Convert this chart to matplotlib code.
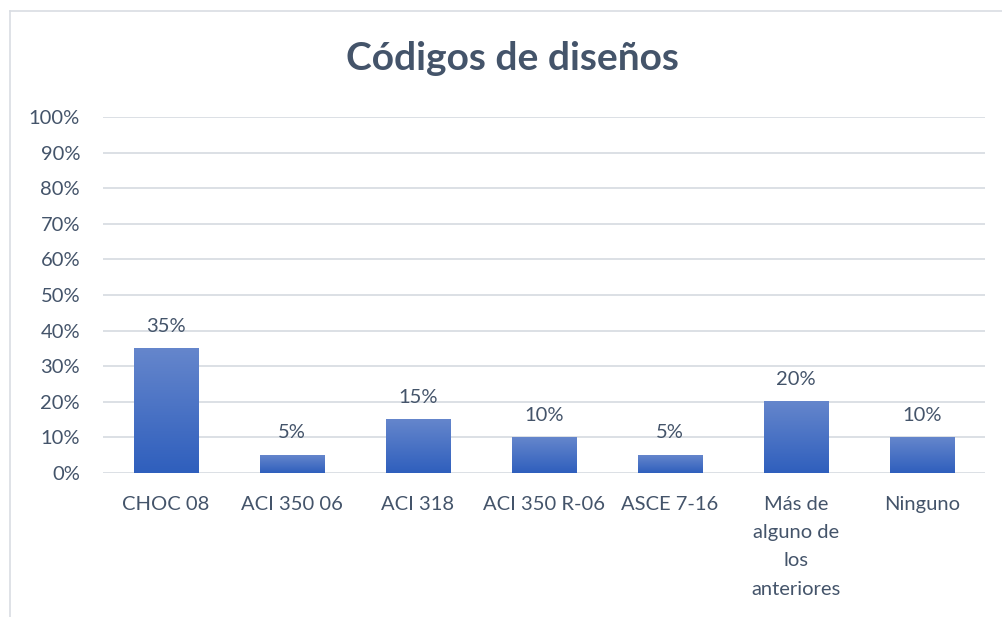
import numpy as np
import matplotlib
matplotlib.use("Agg")
import matplotlib.pyplot as plt
from matplotlib.colors import LinearSegmentedColormap
from matplotlib.ticker import FuncFormatter, MultipleLocator

categories = ["CHOC 08", "ACI 350 06", "ACI 318", "ACI 350 R-06", "ASCE 7-16",
              "Más de\nalguno de\nlos\nanteriores", "Ninguno"]
values = [0.35, 0.05, 0.15, 0.10, 0.05, 0.20, 0.10]
labels = ["35%", "5%", "15%", "10%", "5%", "20%", "10%"]
title = "Códigos de diseños"

plt.rcParams['font.family'] = ['Lato', 'DejaVu Sans']
text_color = "#44546A"
grid_color = "#D9DDE3"

fig = plt.figure(figsize=(10.03, 6.17), dpi=100)
fig.patch.set_facecolor("white")
ax = fig.add_axes([103/1003, 1-473/617, (985-103)/1003, (473-117)/617])

x = np.arange(len(categories))
bars = ax.bar(x, values, width=0.51, color="none", edgecolor="none", zorder=2)

cmap = LinearSegmentedColormap.from_list("g", ["#2F5FBD", "#6586CC"])
grad = np.linspace(0, 1, 256).reshape(-1, 1)
for b in bars:
    x0, y0 = b.get_x(), b.get_y()
    w, h = b.get_width(), b.get_height()
    ax.imshow(grad, cmap=cmap, aspect="auto", origin="lower",
              extent=[x0, x0 + w, y0, y0 + h], zorder=2)

for xi, v, lab in zip(x, values, labels):
    ax.annotate(lab, (xi, v), xytext=(0, 10), textcoords="offset points",
                ha="center", va="bottom", fontsize=14.5, color=text_color)

ax.set_xlim(-0.5, len(categories) - 0.5)
ax.set_ylim(0, 1.0)
ax.yaxis.set_major_locator(MultipleLocator(0.1))
ax.yaxis.set_major_formatter(FuncFormatter(lambda v, p: f"{v*100:.0f}%"))
ax.set_xticks(x)
ax.set_xticklabels(categories, fontsize=14.5, color=text_color, linespacing=1.8, va="top")
ax.tick_params(axis="y", labelsize=14.5, labelcolor=text_color, length=0, pad=16.5)
ax.tick_params(axis="x", length=0, pad=16.5)
ax.grid(axis="y", color=grid_color, linewidth=1.3, zorder=0)
ax.set_axisbelow(True)
for s in ax.spines.values():
    s.set_visible(False)

fig.text(512/1003, 1 - 58/617, title, ha="center", va="center", fontsize=28,
         fontweight="bold", color=text_color)

# chart border (top and left visible)
fig.add_artist(plt.Line2D([10/1003, 10/1003], [0, 1 - 11/617], color=grid_color, lw=1.2))
fig.add_artist(plt.Line2D([10/1003, 1.0], [1 - 11/617, 1 - 11/617], color=grid_color, lw=1.2))

fig.savefig("out.png", dpi=100)
